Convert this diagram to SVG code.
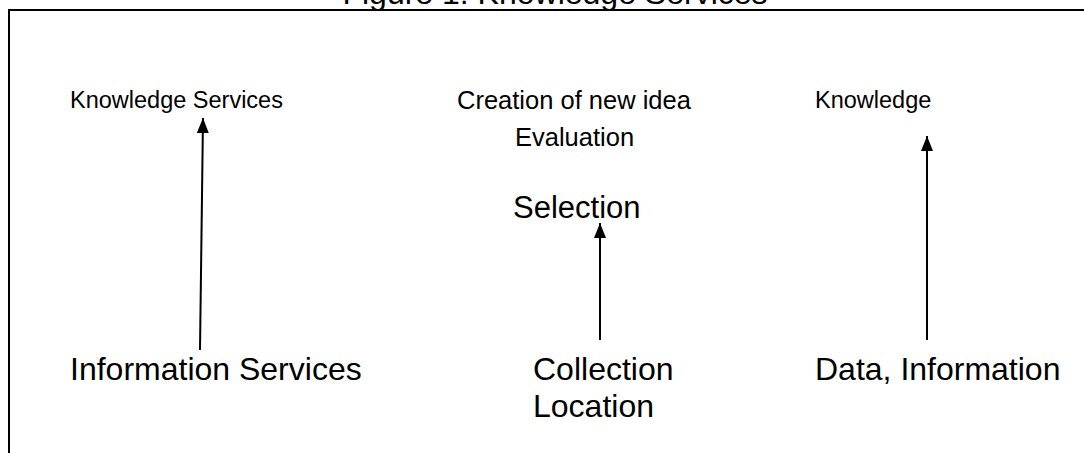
<svg xmlns="http://www.w3.org/2000/svg" width="1084" height="453" viewBox="0 0 1084 453">
<defs>
<style>
.t{font-family:"Liberation Sans",Arial,sans-serif;font-size:32px;fill:#000}
.s{font-size:23.5px}
.m{font-size:25.5px}
.c{stroke:#000;stroke-width:2;fill:none;marker-end:url(#ah)}
</style>
<marker id="ah" markerUnits="userSpaceOnUse" markerWidth="15" markerHeight="12" refX="15" refY="6" orient="auto" viewBox="0 0 15 12">
<path d="M0,0 L15,6 L0,12 Z" fill="#000"/>
</marker>
</defs>
<rect width="1084" height="453" fill="#fff"/>
<text class="t" x="555" y="4" text-anchor="middle">Figure 1: Knowledge Services</text>
<path d="M9,453 V10 H1084" stroke="#000" stroke-width="2" fill="none"/>
<g id="n-knowledge-services"><text class="t s" x="70" y="108">Knowledge Services</text></g>
<g id="n-creation"><text class="t m" x="457" y="109">Creation of new idea</text><text class="t m" x="515" y="146">Evaluation</text></g>
<g id="n-knowledge"><text class="t s" x="815" y="108">Knowledge</text></g>
<g id="n-selection"><text class="t" x="513" y="218" style="font-size:31px">Selection</text></g>
<g id="n-information-services"><text class="t" x="70" y="380">Information Services</text></g>
<g id="n-collection"><text class="t" x="533" y="380">Collection</text><text class="t" x="533" y="417">Location</text></g>
<g id="n-data"><text class="t" x="815" y="380">Data, Information</text></g>
<g id="connectors">
<line class="c" x1="200" y1="350" x2="203" y2="118"/>
<line class="c" x1="600" y1="340" x2="600" y2="223"/>
<line class="c" x1="927" y1="340" x2="927" y2="136"/>
</g>
</svg>
